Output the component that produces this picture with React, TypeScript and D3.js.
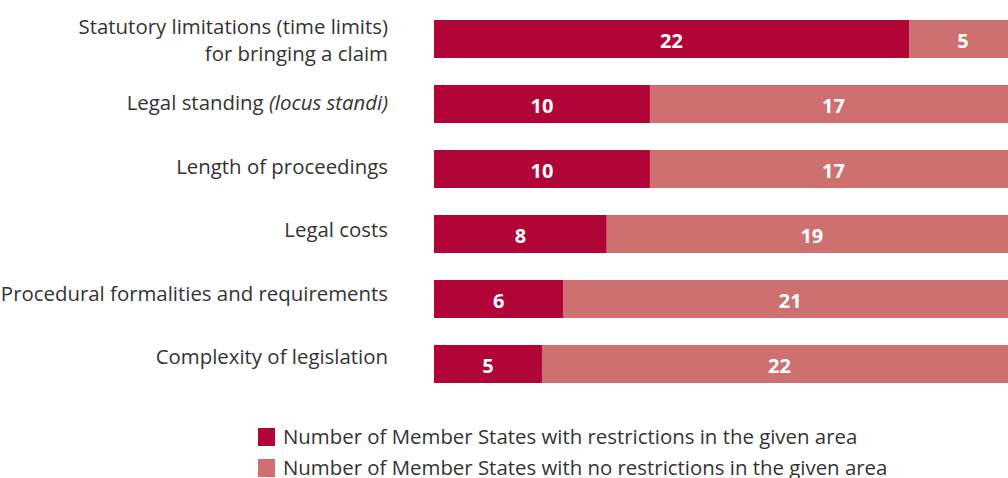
import React from 'react';
import * as d3 from 'd3';

// categories (top to bottom)
const categories = [
  'Statutory limitations',
  'Legal standing',
  'Length of proceedings',
  'Legal costs',
  'Procedural formalities',
  'Complexity of legislation',
];
const withRestrictions = [22, 10, 10, 8, 6, 5];
const noRestrictions = [5, 17, 17, 19, 21, 22];
const legendLabels = [
  'Number of Member States with restrictions in the given area',
  'Number of Member States with no restrictions in the given area',
];

const DARK = '#b10537';
const LIGHT = '#ce706f';
const TEXT = '#333333';
const FONT = '"Open Sans", "Noto Sans", sans-serif';

const W = 1008;
const H = 478;

const CategoryLabel = ({ name, y }: { name: string; y: number }) => {
  const common = { x: 388, textAnchor: 'end' as const, fontSize: 20.4, fill: TEXT, fontFamily: FONT };
  if (name === 'Statutory limitations') {
    return (
      <g>
        <text {...common} y={y - 6}>Statutory limitations (time limits)</text>
        <text {...common} y={y + 21}>for bringing a claim</text>
      </g>
    );
  }
  if (name === 'Legal standing') {
    return (
      <text {...common} y={y + 7}>
        Legal standing <tspan fontStyle="italic">(locus standi)</tspan>
      </text>
    );
  }
  const full: Record<string, string> = {
    'Procedural formalities': 'Procedural formalities and requirements',
  };
  return <text {...common} y={y + 7}>{full[name] || name}</text>;
};

const App = () => {
  const total = d3.max(categories.map((_, i) => withRestrictions[i] + noRestrictions[i])) as number;

  const x = d3.scaleLinear().domain([0, total]).range([434, 1017]);

  const y = d3.scaleBand()
    .domain(categories)
    .range([20, 383])
    .paddingInner(0.415)
    .paddingOuter(0);

  // the text labels sit on a slightly tighter rhythm than the bars
  const yLabel = d3.scalePoint().domain(categories).range([40, 357]);

  const rows = categories.map((c, i) => ({
    c,
    a: withRestrictions[i],
    b: noRestrictions[i],
  }));

  return (
    <svg width={W} height={H} style={{ position: 'absolute', left: 0, top: 0, display: 'block' }}>
      <rect width={W} height={H} fill="#fff" />

      {rows.map(d => {
        const y0 = y(d.c) as number;
        const bw = y.bandwidth();
        const cy = y0 + bw / 2;
        return (
          <g key={d.c}>
            <CategoryLabel name={d.c} y={yLabel(d.c) as number} />
            <rect x={x(0)} y={y0} width={x(d.a) - x(0)} height={bw} fill={DARK} />
            <rect x={x(d.a)} y={y0} width={x(d.a + d.b) - x(d.a)} height={bw} fill={LIGHT} />
            <text
              x={(x(0) + x(d.a)) / 2}
              y={cy + 9}
              textAnchor="middle"
              fill="#fff"
              fontWeight={700}
              fontSize={20}
              fontFamily={FONT}
            >
              {d.a}
            </text>
            <text
              x={(x(d.a) + x(d.a + d.b)) / 2}
              y={cy + 9}
              textAnchor="middle"
              fill="#fff"
              fontWeight={700}
              fontSize={20}
              fontFamily={FONT}
            >
              {d.b}
            </text>
          </g>
        );
      })}

      {/* legend */}
      {legendLabels.map((l, i) => (
        <g key={l} transform={`translate(258, ${428 + i * 31})`}>
          <rect width={17} height={18} fill={i === 0 ? DARK : LIGHT} />
          <text x={25} y={16} fontSize={20.4} fill={TEXT} fontFamily={FONT}>{l}</text>
        </g>
      ))}
    </svg>
  );
};

export default App;
